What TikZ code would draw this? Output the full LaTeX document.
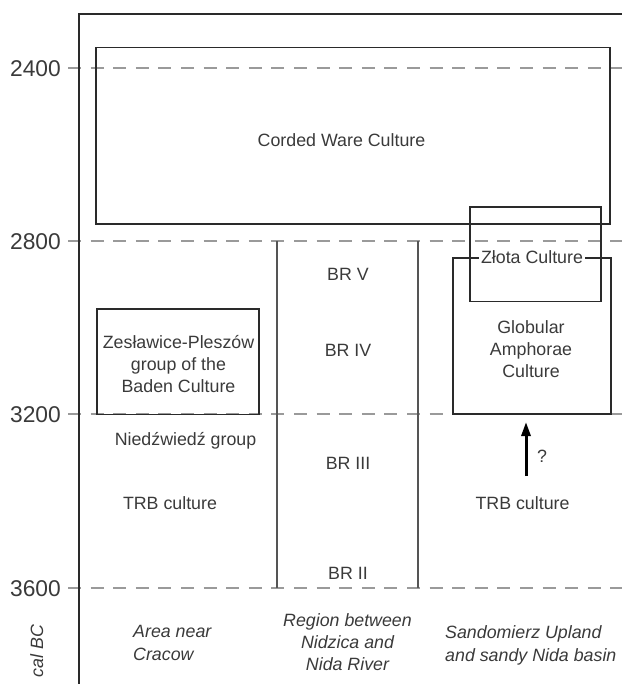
\documentclass[tikz,border=0pt]{standalone}
\usepackage{fontspec}
\setmainfont{Liberation Sans}
\usetikzlibrary{arrows.meta}
\definecolor{txt}{HTML}{3A3A3A}
\definecolor{linec}{HTML}{2A2A2A}
\definecolor{dashgray}{HTML}{9A9A9A}
\definecolor{divc}{HTML}{555555}
\begin{document}
\begin{tikzpicture}[x=1pt,y=-1pt,
  lbl/.style={anchor=base, inner sep=0pt, text=txt, font=\fontsize{17.8}{21}\selectfont},
  ilbl/.style={lbl, font=\fontsize{17.8}{21}\selectfont\itshape},
  ticklbl/.style={anchor=base east, inner sep=0pt, text=txt, font=\fontsize{22.8}{26}\selectfont},
  gridline/.style={draw=dashgray, line width=1.4pt, dash pattern=on 13pt off 9.6pt},
  frameline/.style={draw=linec, line width=1.5pt},
  cbox/.style={draw=linec, line width=1.2pt, inner sep=0pt, outer sep=0pt, anchor=center},
  divider/.style={draw=divc, line width=1.2pt}]
\useasboundingbox (0,0) rectangle (622,684);

% grid lines
\foreach \yy/\nm in {68/a,241/b,414/c,588/d}{
  \coordinate (gs\nm) at (68,\yy);
  \coordinate (ge\nm) at (622,\yy);
  \draw[gridline] (gs\nm) -- (ge\nm);
}

% frame
\coordinate (fbot) at (79,684);
\coordinate (fcorner) at (79,14);
\coordinate (fright) at (622,14);
\draw[frameline] (fbot) -- (fcorner) -- (fright);

% tick labels
\node[ticklbl] (t2400) at (61,76.5) {2400};
\node[ticklbl] (t2800) at (61,249.5) {2800};
\node[ticklbl] (t3200) at (61,422.5) {3200};
\node[ticklbl] (t3600) at (61,596.5) {3600};

% dividers
\coordinate (d1t) at (277,241); \coordinate (d1b) at (277,588);
\coordinate (d2t) at (418,241); \coordinate (d2b) at (418,588);
\draw[divider] (d1t) -- (d1b);
\draw[divider] (d2t) -- (d2b);

% Corded Ware box
\node[cbox, minimum width=514pt, minimum height=176.5pt] (corded) at (353,135.75) {};
\node[lbl] (cordedtxt) at (341.5,146.5) {Corded Ware Culture};

% Zeslawice box
\node[cbox, minimum width=162pt, minimum height=105.5pt] (zes) at (178,361.75) {};
\node[lbl] (zes1) at (178.5,348) {Zesławice-Pleszów};
\node[lbl] (zes2) at (178.5,370) {group of the};
\node[lbl] (zes3) at (178.5,392) {Baden Culture};

\node[lbl] (nied) at (185.5,445) {Niedźwiedź group};
\node[lbl] (trbl) at (170,509) {TRB culture};

% BR labels
\node[lbl] (br5) at (348,280) {BR V};
\node[lbl] (br4) at (348,356) {BR IV};
\node[lbl] (br3) at (348,469) {BR III};
\node[lbl] (br2) at (348,579) {BR II};

% Globular Amphorae and Zlota boxes
\node[cbox, minimum width=158pt, minimum height=156pt] (glob) at (532,336) {};
\node[cbox, minimum width=131pt, minimum height=94.5pt] (zlota) at (535.5,254.25) {};
\node[lbl, fill=white, inner xsep=2.5pt] (zlotatxt) at (532,263) {Złota Culture};
\node[lbl] (glob1) at (531,333) {Globular};
\node[lbl] (glob2) at (531,355) {Amphorae};
\node[lbl] (glob3) at (531,377) {Culture};

% arrow
\coordinate (arrtail) at (526,476);
\coordinate (arrtip) at (526,422);
\draw[draw=black, line width=3pt, -{Triangle[length=14pt,width=9pt]}] (arrtail) -- (arrtip);
\node[lbl] (q) at (542,462) {?};
\node[lbl] (trbr) at (522.5,509) {TRB culture};

% bottom labels
\node[ilbl, anchor=base west] (area1) at (133,637) {Area near};
\node[ilbl, anchor=base west] (area2) at (133,660) {Cracow};
\node[ilbl] (reg1) at (347.5,626) {Region between};
\node[ilbl] (reg2) at (347.5,648) {Nidzica and};
\node[ilbl] (reg3) at (347.5,670) {Nida River};
\node[ilbl, anchor=base west] (san1) at (445,638) {Sandomierz Upland};
\node[ilbl, anchor=base west] (san2) at (445,661) {and sandy Nida basin};
\node[ilbl, rotate=90, anchor=base] (calbc) at (43,651) {cal BC};
\end{tikzpicture}
\end{document}
